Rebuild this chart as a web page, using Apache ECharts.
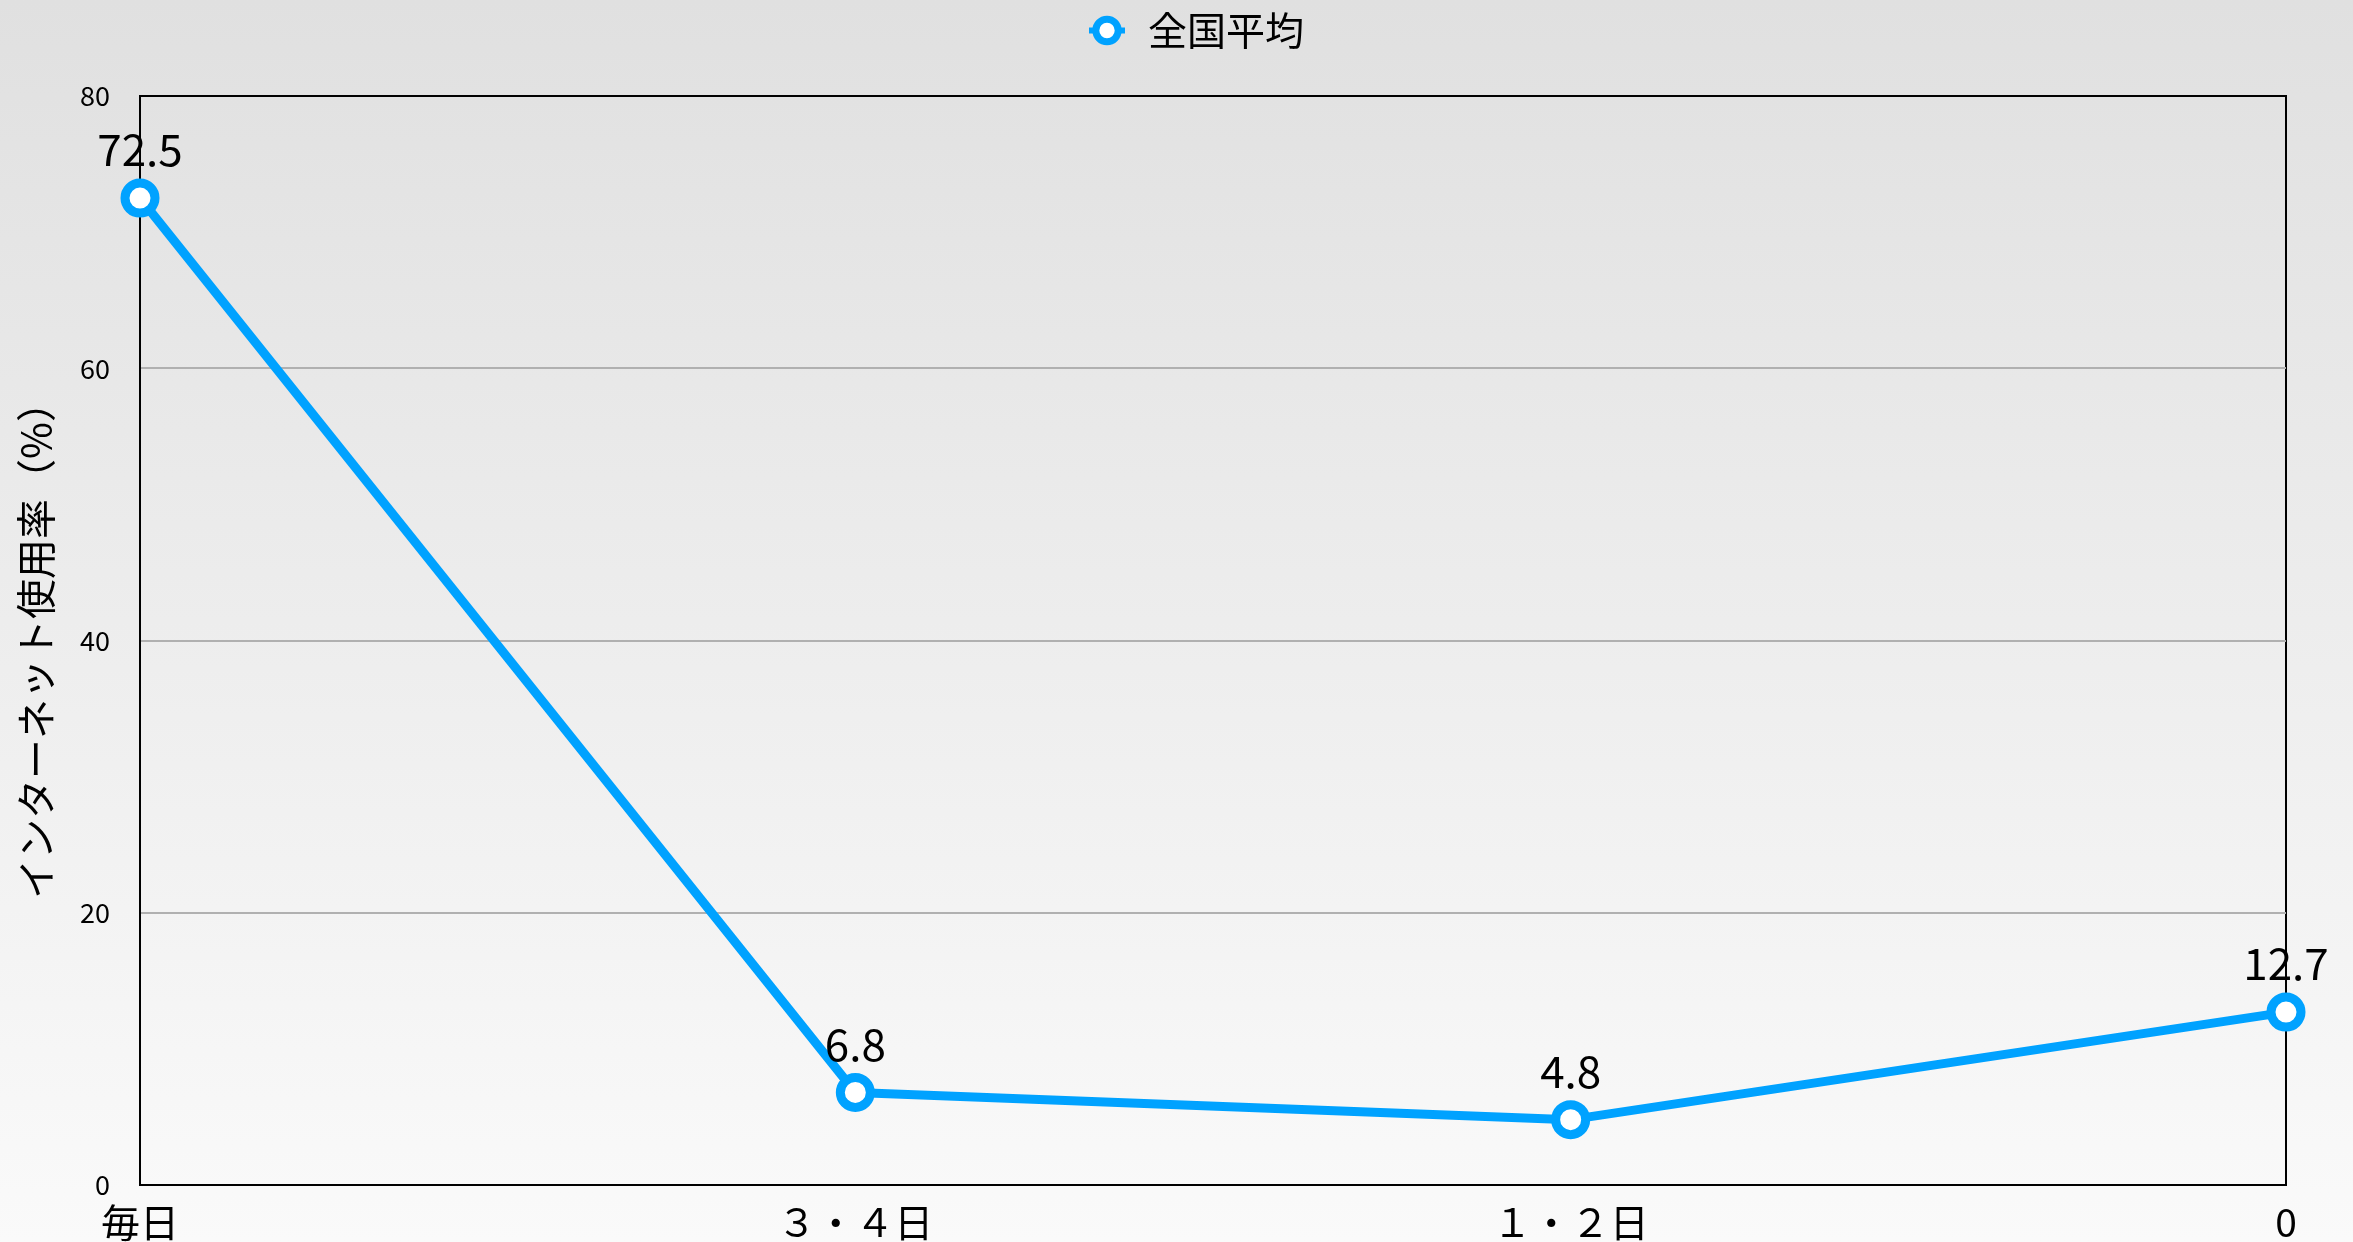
<!DOCTYPE html>
<html><head><meta charset="utf-8">
<script src="https://cdn.jsdelivr.net/npm/echarts@6/dist/echarts.min.js"></script>
<style>html,body{margin:0;padding:0;}#c{width:2353px;height:1242px;}</style>
</head><body><div id="c"></div>
<script>
const categories = ['毎日', '３・４日', '１・２日', '0'];
const seriesName = '全国平均';
const values = [72.5, 6.8, 4.8, 12.7];
const yTicks = [0, 20, 40, 60, 80];
const yAxisName = 'インターネット使用率（%）';

const FONT = '"Noto Sans CJK JP", "Noto Sans", sans-serif';
const BLUE = '#00a2ff';
const chart = echarts.init(document.getElementById('c'));
chart.setOption({
  backgroundColor: {
    type: 'linear', x: 0, y: 0, x2: 0, y2: 1,
    colorStops: [{offset: 0, color: '#e0e0e0'}, {offset: 1, color: '#fafafa'}]
  },
  textStyle: {fontFamily: FONT},
  legend: {
    top: 6, left: 1081,
    itemWidth: 36, itemHeight: 28, itemGap: 20,
    itemStyle: {borderWidth: 7, borderColor: BLUE, color: '#ffffff'},
    lineStyle: {width: 6, color: BLUE},
    textStyle: {fontSize: 39, color: '#000', fontFamily: FONT, padding: [0, 0, 0, 18]},
    data: [seriesName]
  },
  grid: {left: 140, right: 67, top: 96, bottom: 56, show: true, borderColor: '#000', borderWidth: 2, backgroundColor: 'transparent'},
  xAxis: {
    type: 'category', data: categories, boundaryGap: false,
    axisLine: {lineStyle: {color: '#000', width: 2}},
    axisTick: {show: false},
    axisLabel: {fontSize: 39, color: '#000', margin: 18, fontFamily: FONT},
    splitLine: {show: false}
  },
  yAxis: {
    type: 'value', min: yTicks[0], max: yTicks[yTicks.length - 1], interval: 20,
    name: yAxisName, nameLocation: 'middle', nameGap: 84, nameRotate: 90,
    nameTextStyle: {fontSize: 40, color: '#000', fontFamily: FONT},
    axisLine: {show: true, lineStyle: {color: '#000', width: 2}},
    axisTick: {show: false},
    axisLabel: {fontSize: 27, color: '#000', margin: 30, fontFamily: FONT},
    splitLine: {show: true, lineStyle: {color: ['#000', '#b0b0b0', '#b0b0b0', '#b0b0b0', '#000'], width: 2}}
  },
  series: [{
    name: seriesName, type: 'line', data: values,
    symbol: 'circle', symbolSize: 30,
    color: BLUE,
    lineStyle: {color: BLUE, width: 9},
    itemStyle: {color: '#ffffff', borderColor: BLUE, borderWidth: 9},
    label: {show: true, position: 'top', distance: 7, fontSize: 44, color: '#000', fontFamily: FONT},
    emphasis: {disabled: true},
    animation: false
  }],
  animation: false
});
</script></body></html>
